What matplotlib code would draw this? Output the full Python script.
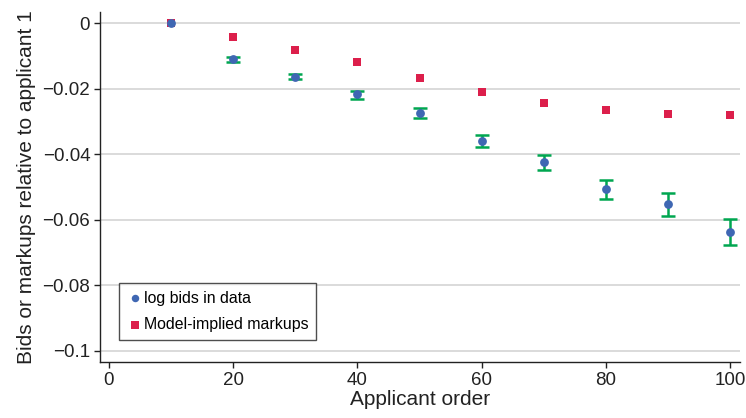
import matplotlib
matplotlib.use("Agg")
import matplotlib.pyplot as plt
import numpy as np

plt.rcParams['font.family'] = ['Liberation Sans', 'DejaVu Sans']

# data
applicant_order = [10, 20, 30, 40, 50, 60, 70, 80, 90, 100]
log_bids = [0.0, -0.0110, -0.0163, -0.0217, -0.0273, -0.0359, -0.0425, -0.0507, -0.0553, -0.0637]
ci_upper = [0.0, -0.0103, -0.0155, -0.0206, -0.0258, -0.0340, -0.0401, -0.0479, -0.0517, -0.0598]
ci_lower = [0.0, -0.0119, -0.0171, -0.0230, -0.0290, -0.0378, -0.0448, -0.0537, -0.0588, -0.0677]
markups = [0.0, -0.0043, -0.0082, -0.0119, -0.0168, -0.0210, -0.0244, -0.0265, -0.0276, -0.0280]

x_ticks = [0, 20, 40, 60, 80, 100]
y_ticks = [0, -0.02, -0.04, -0.06, -0.08, -0.1]
y_tick_labels = ['0', '\u22120.02', '\u22120.04', '\u22120.06', '\u22120.08', '\u22120.1']

blue = '#3f67b3'
red = '#dc1f4b'
green = '#00a650'

fig = plt.figure(figsize=(7.46, 4.18), dpi=100)
ax = fig.add_axes([0.134, 0.134, 0.858, 0.837])

bids = np.array(log_bids)
yerr = [bids - np.array(ci_lower), np.array(ci_upper) - bids]
ax.errorbar(applicant_order[1:], log_bids[1:], yerr=[yerr[0][1:], yerr[1][1:]],
            fmt='none', ecolor=green, elinewidth=1.8, capsize=4.8, capthick=1.8, zorder=3)
sq = ax.scatter(applicant_order, markups, marker='s', s=36, color=red, linewidths=0,
                zorder=4, label='Model-implied markups')
ci = ax.scatter(applicant_order, log_bids, marker='o', s=40, color=blue, linewidths=0,
                zorder=5, label='log bids in data')

ax.set_xlim(-1.45, 101.6)
ax.set_ylim(-0.1034, 0.0034)
ax.set_xticks(x_ticks)
ax.set_yticks(y_ticks)
ax.set_yticklabels(y_tick_labels)
ax.grid(axis='y', color='#d4d4d4', linewidth=1.2)
ax.set_axisbelow(True)

for s in ['top', 'right']:
    ax.spines[s].set_visible(False)
for s in ['left', 'bottom']:
    ax.spines[s].set_color('#222222')
    ax.spines[s].set_linewidth(1.0)
ax.tick_params(axis='both', labelsize=13.5, color='#222222', length=4, width=1.0,
               labelcolor='#222222', pad=3)

ax.set_xlabel('Applicant order', fontsize=15, color='#222222', labelpad=1)
ax.set_ylabel('Bids or markups relative to applicant 1', fontsize=15, color='#222222', labelpad=5)

leg = ax.legend(handles=[ci, sq], loc='lower left', bbox_to_anchor=(0.030, 0.062),
                fontsize=11.4, frameon=True, fancybox=False, edgecolor='#222222',
                handletextpad=0.05, handlelength=1.0, borderpad=0.5, labelspacing=0.75,
                markerscale=0.85, borderaxespad=0)
leg.get_frame().set_linewidth(1.0)

fig.savefig('out.png', dpi=100)
